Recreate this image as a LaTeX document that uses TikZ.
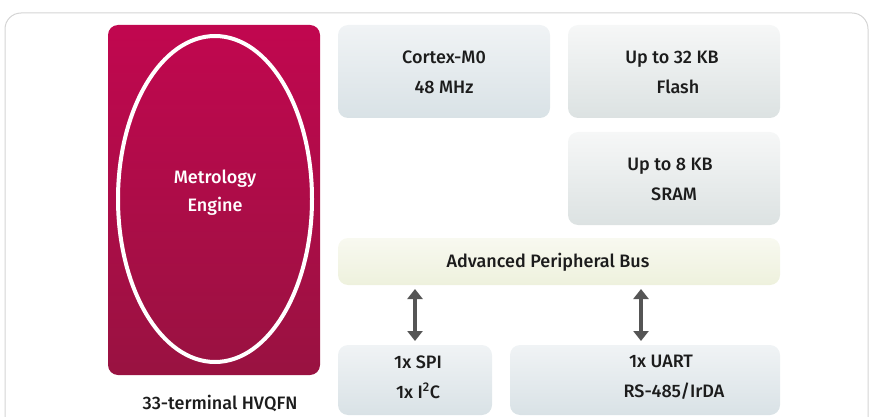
\documentclass[tikz,border=0pt]{standalone}
\usepackage{fontspec}
\setmainfont{Fira Sans Medium}
\usetikzlibrary{arrows.meta,calc,shapes.geometric}
\definecolor{frameline}{HTML}{D4D4D4}
\definecolor{engtop}{HTML}{C1074F}
\definecolor{engbot}{HTML}{991241}
\definecolor{boxtop}{HTML}{F0F3F5}
\definecolor{boxbot}{HTML}{D9E2E6}
\definecolor{memtop}{HTML}{F6F7F7}
\definecolor{membot}{HTML}{DCE2E2}
\definecolor{bustop}{HTML}{F8F9F0}
\definecolor{busbot}{HTML}{EEF1DD}
\definecolor{txt}{HTML}{1C1C1C}
\definecolor{arrowgray}{HTML}{555555}
\tikzset{
  block/.style={rounded corners=10pt, inner sep=0pt, text=txt,
    font=\fontsize{18}{30}\selectfont, align=center},
  cpublock/.style={block, top color=boxtop, bottom color=boxbot},
  memblock/.style={block, top color=memtop, bottom color=membot},
  busblock/.style={block, top color=bustop, bottom color=busbot},
  busarrow/.style={arrowgray, line width=4.5pt,
    {Triangle[width=15pt,length=10pt]}-{Triangle[width=15pt,length=10pt]},
    shorten <=4pt, shorten >=4pt},
}
\begin{document}
\begin{tikzpicture}[x=1pt,y=-1pt]
\useasboundingbox (0,0) rectangle (870,417);
% outer frame, open at the bottom
\draw[frameline, line width=1pt, rounded corners=16pt]
  (5,430) -- (5,13) -- (868,13) -- (868,430);
% metrology engine block
\shade[top color=engtop, bottom color=engbot, rounded corners=10pt]
  (108,25) rectangle (320,375);
\node[draw=white, line width=4pt, ellipse, minimum width=194pt,
  minimum height=326pt, inner sep=0pt] (eng) at (215,199) {};
\node[text=white, font=\fontsize{18}{28}\selectfont, align=center]
  (englabel) at (215,193) {Metrology\\Engine};
\node[text=txt, font=\fontsize{18}{20}\selectfont] (pkg) at (220,403)
  {33-terminal HVQFN};
% core and memories
\path[cpublock] (338,25) rectangle (550,118);
\node[block] (cpu) at (444,72) {Cortex-M0\\48 MHz};
\path[memblock] (568,25) rectangle (780,118);
\node[block] (flash) at (672,72) {Up to 32 KB\\\hspace*{12pt}Flash};
\path[memblock] (568,132) rectangle (780,225);
\node[block] (sram) at (670,179) {Up to 8 KB\\\hspace*{8pt}SRAM};
% peripheral bus
\path[busblock] (338,238) rectangle (780,285);
\node[block] (buslabel) at (548,262) {Advanced Peripheral Bus};
% peripherals
\path[cpublock] (338,345) rectangle (492,415);
\coordinate (spiN) at (415,345);
\node[block] (spi) at (418,377) {1x SPI\\1x I\textsuperscript{2}C};
\path[cpublock] (510,345) rectangle (780,415);
\coordinate (uartN) at (641,345);
\node[block] (uart) at (661,377) {1x UART\\\hspace*{26pt}RS-485/IrDA};
% bus connections
\coordinate (busA) at (415,285);
\coordinate (busB) at (641,285);
\draw[busarrow] (busA) -- (spiN);
\draw[busarrow] (busB) -- (uartN);
\end{tikzpicture}
\end{document}
